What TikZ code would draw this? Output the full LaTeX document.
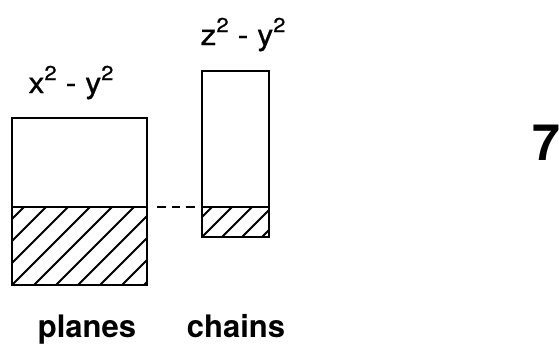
\documentclass[tikz,border=0pt]{standalone}
\usepackage{fontspec}
\setmainfont{TeX Gyre Heros}
\newfontfamily\labelfont[FakeStretch=1.1,FakeBold=0.8]{TeX Gyre Heros}
\newcommand{\sqr}{\raisebox{13pt}{\fontsize{20}{20}\selectfont 2}}
\newcommand{\gap}{\hspace{9pt}}
\begin{document}
\begin{tikzpicture}[x=1pt,y=-1pt,
  box/.style={draw=black,line width=2.6pt},
  hatch/.style={line width=2pt},
  lbl/.style={font=\labelfont\fontsize{29}{29}\selectfont,inner sep=0pt},
  caption/.style={font=\fontsize{31}{31}\selectfont\bfseries,inner sep=0pt}]
\useasboundingbox (0,0) rectangle (559,348);
% hatched lower part of the planes block
\begin{scope}
  \clip (12,207) rectangle (147,285);
  \foreach \k in {-6,...,10}
    \draw[hatch] ({12+22*\k},285) -- ({12+22*\k+100},185);
\end{scope}
% hatched lower part of the chains block
\begin{scope}
  \clip (202,207) rectangle (269,237);
  \foreach \k in {-3,...,5}
    \draw[hatch] ({202+20*\k},237) -- ({202+20*\k+50},187);
\end{scope}
% blocks
\draw[box] (12,118) rectangle (147,285);
\draw[box] (12,207) -- (147,207);
\draw[box] (202,71) rectangle (269,237);
\draw[box] (202,207) -- (269,207);
\coordinate (pr) at (157,207);
\coordinate (cl) at (196,207);
\draw[line width=2.6pt,dash pattern=on 8.5pt off 6pt] (pr) -- (cl);
% labels
\node[lbl,anchor=base] (xl) at (71,93) {x\sqr\gap-\gap y\sqr};
\node[lbl,anchor=base] (zl) at (243,45) {z\sqr\gap-\gap y\sqr};
\node[caption,anchor=base] (planes) at (87,337) {planes};
\node[caption,anchor=base] (chains) at (236,337) {chains};
\node[font=\fontsize{50}{50}\selectfont\bfseries,inner sep=0pt,anchor=base west] (num) at (532,160) {7};
\end{tikzpicture}
\end{document}
